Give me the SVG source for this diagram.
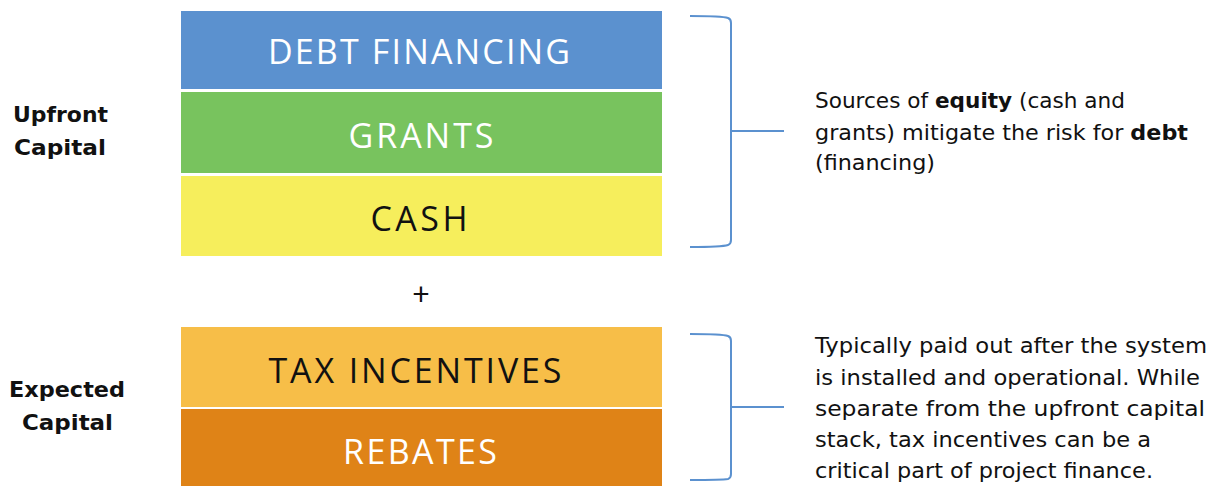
<svg xmlns="http://www.w3.org/2000/svg" width="1220" height="486" viewBox="0 0 1220 486">
  <style>
    .box-label { font-family: "Open Sans", Lato, sans-serif; font-size: 34px; text-anchor: middle; }
    .light { fill: #ffffff; }
    .dark { fill: #111111; }
    .side { font-family: "DejaVu Sans", "Open Sans", sans-serif; font-size: 21px; font-weight: 700; fill: #111111; }
    .note { font-family: "DejaVu Sans", "Open Sans", sans-serif; font-size: 22px; fill: #111111; }
    .brace { fill: none; stroke: #5B91CF; stroke-width: 2; }
  </style>
  <rect width="1220" height="486" fill="#ffffff"/>

  <!-- Upfront capital stack -->
  <g id="debt-financing">
    <rect x="181" y="11" width="481" height="78" fill="#5B91CF"/>
    <text class="box-label light" x="419" y="64" textLength="302" lengthAdjust="spacing">DEBT FINANCING</text>
  </g>
  <g id="grants">
    <rect x="181" y="92" width="481" height="81" fill="#78C35E"/>
    <text class="box-label light" x="421" y="148" textLength="145" lengthAdjust="spacing">GRANTS</text>
  </g>
  <g id="cash">
    <rect x="181" y="176" width="481" height="80" fill="#F6EE5C"/>
    <text class="box-label dark" x="419" y="231" textLength="97" lengthAdjust="spacing">CASH</text>
  </g>

  <g id="plus">
    <text x="421" y="305" text-anchor="middle" font-family="Lato, sans-serif" font-size="30" fill="#111111">+</text>
  </g>

  <!-- Expected capital stack -->
  <g id="tax-incentives">
    <rect x="181" y="327" width="481" height="80" fill="#F7BE48"/>
    <text class="box-label dark" x="415" y="383" textLength="293" lengthAdjust="spacing">TAX INCENTIVES</text>
  </g>
  <g id="rebates">
    <rect x="181" y="409" width="481" height="77" fill="#DF8317"/>
    <text class="box-label light" x="420" y="464" textLength="154" lengthAdjust="spacing">REBATES</text>
  </g>

  <!-- Side labels -->
  <g id="upfront-capital">
    <text class="side" x="13" y="122" textLength="95" lengthAdjust="spacingAndGlyphs">Upfront</text>
    <text class="side" x="14" y="155" textLength="92" lengthAdjust="spacingAndGlyphs">Capital</text>
  </g>
  <g id="expected-capital">
    <text class="side" x="9" y="397" textLength="116" lengthAdjust="spacingAndGlyphs">Expected</text>
    <text class="side" x="22" y="430" textLength="91" lengthAdjust="spacingAndGlyphs">Capital</text>
  </g>

  <!-- Brackets -->
  <g id="connectors">
    <path class="brace" d="M690 16 Q722 16 728 18 Q731 19 731 23 L731 240 Q731 244 728 245 Q722 247 690 247"/>
    <line class="brace" x1="731" y1="131" x2="784" y2="131"/>
    <path class="brace" d="M690 334 Q722 334 728 336 Q731 337 731 341 L731 474 Q731 478 728 479 Q722 480 690 480"/>
    <line class="brace" x1="731" y1="407" x2="784" y2="407"/>
  </g>

  <!-- Notes -->
  <g id="equity-note">
    <text class="note" x="815" y="108" textLength="310" lengthAdjust="spacingAndGlyphs">Sources of <tspan font-weight="700">equity</tspan> (cash and</text>
    <text class="note" x="815" y="140" textLength="373" lengthAdjust="spacingAndGlyphs">grants) mitigate the risk for <tspan font-weight="700">debt</tspan></text>
    <text class="note" x="815" y="170" textLength="120" lengthAdjust="spacingAndGlyphs">(financing)</text>
  </g>
  <g id="incentive-note">
    <text class="note" x="815" y="353" textLength="392" lengthAdjust="spacingAndGlyphs">Typically paid out after the system</text>
    <text class="note" x="815" y="385" textLength="385" lengthAdjust="spacingAndGlyphs">is installed and operational. While</text>
    <text class="note" x="815" y="416" textLength="390" lengthAdjust="spacingAndGlyphs">separate from the upfront capital</text>
    <text class="note" x="815" y="447" textLength="336" lengthAdjust="spacingAndGlyphs">stack, tax incentives can be a</text>
    <text class="note" x="815" y="478" textLength="338" lengthAdjust="spacingAndGlyphs">critical part of project finance.</text>
  </g>
</svg>
